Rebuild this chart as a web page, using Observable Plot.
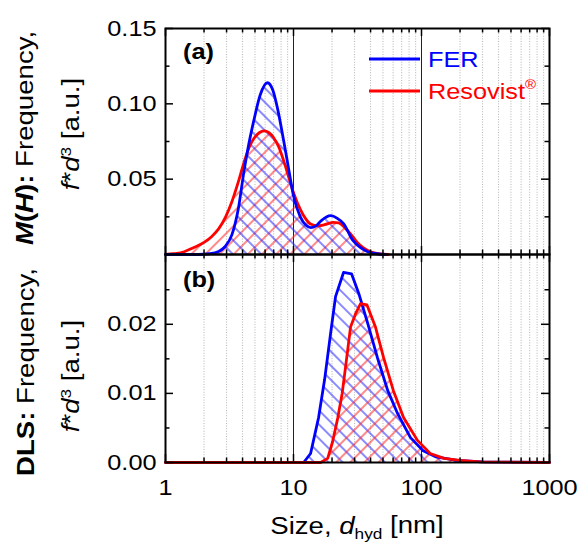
<!DOCTYPE html>
<html><head><meta charset="utf-8">
<script src="https://cdn.jsdelivr.net/npm/d3@7"></script>
<script src="https://cdn.jsdelivr.net/npm/@observablehq/plot@0.6"></script>
<style>
body{margin:0;background:#fff;}
#chart{position:relative;width:580px;height:546px;background:#fff;}
#chart svg{position:absolute;left:0;overflow:visible;}
</style></head><body><div id="chart"></div>
<script>
// ---- tick values ----
const majorTicks = [1, 10, 100, 1000];
const minorTicks = [2,3,4,5,6,7,8,9,20,30,40,50,60,70,80,90,200,300,400,500,600,700,800,900];
const solidGrid = [10, 100];
const topYTicks = [0.05, 0.10, 0.15];
const topYMinor = [0.025, 0.075, 0.125];
const botYTicks = [0, 0.01, 0.02];
const botYMinor = [0.005, 0.015, 0.025];

// ---- (a) M(H) size distributions ----
const mhSizeFER = [1, 1.8, 2.2, 2.6, 2.9, 3.3, 3.7, 4.1, 4.4, 4.9, 5.5, 6.25, 6.9, 7.5, 8.4, 9.2, 10, 11.3, 12.5, 13.6, 15, 16.5, 19.5, 22, 24.6, 29, 33.4, 38, 45, 52];
const mhFreqFER = [0, 0, 0.0005, 0.002, 0.005, 0.013, 0.03, 0.055, 0.07, 0.089, 0.106, 0.114, 0.109, 0.097, 0.075, 0.056, 0.039, 0.025, 0.0195, 0.0178, 0.019, 0.0225, 0.0258, 0.024, 0.0205, 0.0095, 0.0045, 0.0018, 0.0005, 0];
const mhSizeRes = [1, 1.15, 1.4, 1.65, 2.0, 2.3, 2.6, 2.95, 3.3, 3.7, 4.1, 4.5, 4.9, 5.4, 5.9, 6.4, 7.0, 7.7, 8.4, 9.2, 10, 11.3, 12.5, 13.6, 15.4, 17.5, 20.5, 22.5, 25, 28, 31.5, 35, 40, 46, 55];
const mhFreqRes = [0, 0.0005, 0.0018, 0.0045, 0.008, 0.012, 0.017, 0.025, 0.035, 0.048, 0.061, 0.071, 0.077, 0.0808, 0.082, 0.081, 0.0775, 0.071, 0.062, 0.051, 0.041, 0.030, 0.0235, 0.0202, 0.019, 0.0198, 0.0213, 0.021, 0.018, 0.0135, 0.008, 0.0045, 0.0018, 0.0005, 0];

// ---- (b) DLS size distributions ----
const dlsSizeFER = [1, 12, 13.6, 15.7, 17.5, 19.5, 21.3, 24.6, 28.4, 32.3, 37.9, 45.2, 54.5, 65, 82, 103, 130, 190, 300, 1000];
const dlsFreqFER = [0, 0, 0.0013, 0.0065, 0.012, 0.0187, 0.024, 0.0275, 0.0273, 0.0245, 0.0202, 0.0152, 0.0104, 0.0071, 0.0036, 0.0017, 0.0008, 0.0003, 0.0001, 0];
const dlsSizeRes = [1, 16.3, 18.5, 20.2, 22.2, 24, 25.5, 27.9, 30.5, 33.4, 37.5, 43.7, 50.5, 60.3, 72.4, 93, 117, 150, 200, 290, 1000];
const dlsFreqRes = [0, 0, 0.0006, 0.003, 0.0065, 0.0100, 0.0138, 0.0196, 0.0215, 0.023, 0.0228, 0.0196, 0.0152, 0.0104, 0.0065, 0.0032, 0.0013, 0.0006, 0.0003, 0.0001, 0];

const seriesNames = ["FER", "Resovist"];
const seriesColors = ["#0000ff", "#ff0000"];

const toRows = (xs, ys) => xs.map((x, i) => ({x, y: ys[i]}));
const mhFER = toRows(mhSizeFER, mhFreqFER);
const mhRes = toRows(mhSizeRes, mhFreqRes);
const dlsFER = toRows(dlsSizeFER, dlsFreqFER);
const dlsRes = toRows(dlsSizeRes, dlsFreqRes);

const FONT = '"Liberation Sans", Arial, Helvetica, sans-serif';
const SX = 1.15;
const W = 580, ML = 165, MR = 31;
const innerW = W - ML - MR;

function tickMarks(innerH, yMajor, yMinor) {
  const maj = 8, min = 4.5;
  return [
    Plot.ruleX(majorTicks, {x: d => d, stroke: "black", strokeWidth: 1.5, insetTop: innerH - maj}),
    Plot.ruleX(majorTicks, {x: d => d, stroke: "black", strokeWidth: 1.5, insetBottom: innerH - maj}),
    Plot.ruleX(minorTicks, {x: d => d, stroke: "black", strokeWidth: 1.5, insetTop: innerH - min}),
    Plot.ruleX(minorTicks, {x: d => d, stroke: "black", strokeWidth: 1.5, insetBottom: innerH - min}),
    Plot.ruleY(yMajor, {y: d => d, stroke: "black", strokeWidth: 1.5, insetRight: innerW - maj}),
    Plot.ruleY(yMajor, {y: d => d, stroke: "black", strokeWidth: 1.5, insetLeft: innerW - maj}),
    Plot.ruleY(yMinor, {y: d => d, stroke: "black", strokeWidth: 1.5, insetRight: innerW - min}),
    Plot.ruleY(yMinor, {y: d => d, stroke: "black", strokeWidth: 1.5, insetLeft: innerW - min})
  ];
}
const gridMarks = () => [
  Plot.ruleX(minorTicks, {x: d => d, stroke: "#b4b4b4", strokeWidth: 1, strokeDasharray: "1,1.6"}),
  Plot.ruleX(solidGrid, {x: d => d, stroke: "#222", strokeWidth: 1})
];
const style = {fontFamily: FONT, fontSize: "22px", overflow: "visible", background: "transparent", color: "black"};

function addPatterns(svg, suffix) {
  const defs = d3.select(svg).insert("defs", ":first-child");
  const mk = (id, color, angle) => {
    const p = defs.append("pattern").attr("id", id + suffix).attr("patternUnits", "userSpaceOnUse")
      .attr("width", 10).attr("height", 10).attr("patternTransform", `rotate(${angle})`);
    p.append("line").attr("x1", 5).attr("y1", -2).attr("x2", 5).attr("y2", 12)
      .attr("stroke", color).attr("stroke-width", 1.1);
  };
  mk("hatchBlue", "#2a2aff", -45);
  mk("hatchRed", "#ff2a2a", 45);
}

function stretchTexts(svg) {
  svg.querySelectorAll("text").forEach(t => {
    const xa = t.getAttribute("x");
    const x = xa && !isNaN(+xa) ? +xa : 0;
    const tr = t.getAttribute("transform") || "";
    t.setAttribute("x", 0);
    t.setAttribute("transform", `${tr} translate(${x},0) scale(${SX},1)`.trim());
  });
}

function addText(g, x, y, parts, opts = {}) {
  const t = g.append("text")
    .attr("transform", `translate(${x},${y})${opts.rotate ? " rotate(-90)" : ""} scale(${SX},1)`)
    .attr("font-family", FONT).attr("font-size", opts.size || 22)
    .attr("text-anchor", opts.anchor || "start").attr("fill", opts.fill || "black");
  parts.forEach(p => {
    const s = t.append("tspan").text(p.t);
    if (p.b) s.attr("font-weight", "bold");
    if (p.i) s.attr("font-style", "italic");
    if (p.fs) s.attr("font-size", p.fs);
    if (p.dy) s.attr("dy", p.dy);
  });
  return t;
}

// ---------------- top panel (a) ----------------
const topH = 254, topMT = 28;
const topPlot = Plot.plot({
  width: W, height: topH, marginTop: topMT, marginBottom: 0, marginLeft: ML, marginRight: MR,
  style,
  x: {type: "log", domain: [1, 1000], axis: null},
  y: {domain: [0, 0.15], ticks: topYTicks, tickSize: 0, tickPadding: 9, tickFormat: d3.format(".2f"), label: null},
  marks: [
    ...gridMarks(),
    Plot.areaY(mhRes, {x: "x", y: "y", fill: "url(#hatchRedA)", curve: "monotone-x"}),
    Plot.areaY(mhFER, {x: "x", y: "y", fill: "url(#hatchBlueA)", curve: "monotone-x"}),
    Plot.lineY(mhRes, {x: "x", y: "y", stroke: seriesColors[1], strokeWidth: 2.8, curve: "monotone-x"}),
    Plot.lineY(mhFER, {x: "x", y: "y", stroke: seriesColors[0], strokeWidth: 2.8, curve: "monotone-x"}),
    ...tickMarks(topH - topMT, topYTicks, topYMinor),
    Plot.frame({stroke: "black", strokeWidth: 2})
  ]
});
topPlot.style.top = "0px";
addPatterns(topPlot, "A");
stretchTexts(topPlot);
{
  const g = d3.select(topPlot).append("g");
  addText(g, 183, 59, [{t: "(a)", b: true}], {size: 22});
  // legend
  [0, 1].forEach(i => {
    const y = 59 + i * 32;
    g.append("line").attr("x1", 369).attr("x2", 420).attr("y1", y).attr("y2", y)
      .attr("stroke", seriesColors[i]).attr("stroke-width", 2.8);
  });
  addText(g, 428, 67, [{t: seriesNames[0]}], {size: 22, fill: seriesColors[0]});
  addText(g, 428, 99, [{t: seriesNames[1]}, {t: "®", fs: 13, dy: "-0.8em"}], {size: 22, fill: seriesColors[1]});
  // y title
  addText(g, 33, 138, [{t: "M", b: true, i: true}, {t: "(", b: true}, {t: "H", b: true, i: true}, {t: "):", b: true}, {t: " Frequency,"}], {size: 24, rotate: true, anchor: "middle"});
  addText(g, 79, 134, [{t: "f", i: true}, {t: "*"}, {t: "d", i: true}, {t: "3", fs: 15, dy: "-0.55em"}, {t: " [a.u.]", dy: "0.36em"}], {size: 24, rotate: true, anchor: "middle"});
}

// ---------------- bottom panel (b) ----------------
const botTop = 254, botH = 292, botMB = 84;
const botPlot = Plot.plot({
  width: W, height: botH, marginTop: 0, marginBottom: botMB, marginLeft: ML, marginRight: MR,
  style,
  x: {type: "log", domain: [1, 1000], ticks: majorTicks, tickSize: 0, tickPadding: 17, tickFormat: d => String(d), label: null},
  y: {domain: [0, 0.0301], ticks: botYTicks, tickSize: 0, tickPadding: 9, tickFormat: d3.format(".2f"), label: null},
  marks: [
    ...gridMarks(),
    Plot.areaY(dlsFER, {x: "x", y: "y", fill: "url(#hatchBlueB)"}),
    Plot.areaY(dlsRes, {x: "x", y: "y", fill: "url(#hatchRedB)"}),
    Plot.lineY(dlsFER, {x: "x", y: "y", stroke: seriesColors[0], strokeWidth: 2.8}),
    Plot.lineY(dlsRes, {x: "x", y: "y", stroke: seriesColors[1], strokeWidth: 2.8}),
    ...tickMarks(botH - botMB, botYTicks, botYMinor),
    Plot.frame({stroke: "black", strokeWidth: 2})
  ]
});
botPlot.style.top = botTop + "px";
addPatterns(botPlot, "B");
stretchTexts(botPlot);
{
  const g = d3.select(botPlot).append("g");
  addText(g, 183, 33, [{t: "(b)", b: true}], {size: 22});
  addText(g, 34, 118, [{t: "DLS:", b: true}, {t: " Frequency,"}], {size: 24, rotate: true, anchor: "middle"});
  addText(g, 79, 122, [{t: "f", i: true}, {t: "*"}, {t: "d", i: true}, {t: "3", fs: 15, dy: "-0.55em"}, {t: " [a.u.]", dy: "0.36em"}], {size: 24, rotate: true, anchor: "middle"});
  addText(g, 357, 280, [{t: "Size, "}, {t: "d", i: true}, {t: "hyd", fs: 15, dy: "0.35em"}, {t: " [nm]", dy: "-0.24em"}], {size: 24, anchor: "middle"});
}

const chart = document.getElementById("chart");
chart.appendChild(topPlot);
chart.appendChild(botPlot);
</script></body></html>
